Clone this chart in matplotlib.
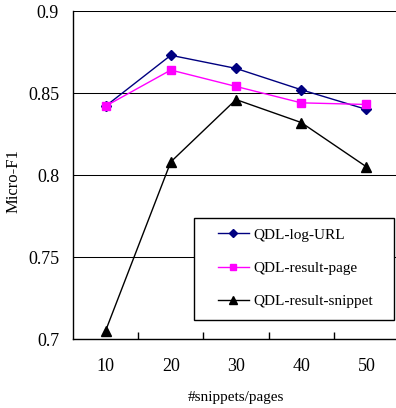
import matplotlib
matplotlib.use("Agg")
import matplotlib.pyplot as plt
from matplotlib.patches import Rectangle
from matplotlib.ticker import FixedLocator

plt.rcParams['font.family'] = ['Liberation Serif', 'DejaVu Serif']

# data
snippets = [10, 20, 30, 40, 50]
log_url = [0.842, 0.873, 0.865, 0.852, 0.840]
result_page = [0.842, 0.864, 0.854, 0.844, 0.843]
result_snippet = [0.705, 0.808, 0.846, 0.832, 0.805]
y_ticks = [0.7, 0.75, 0.8, 0.85, 0.9]
y_labels = ['0.7', '0.75', '0.8', '0.85', '0.9']

W, H = 396, 408
fig = plt.figure(figsize=(W / 100, H / 100), dpi=100)
# plot area runs a bit past the right edge, as in the reference
ax = fig.add_axes([73 / W, 1 - 339 / H, 326 / W, 328 / H])

ax.plot(snippets, log_url, color='#000080', marker='D', markersize=5,
        linewidth=1, label='QDL-log-URL', zorder=3)
ax.plot(snippets, result_page, color='#ff00ff', marker='s', markersize=6,
        linewidth=1, label='QDL-result-page', zorder=3)
ax.plot(snippets, result_snippet, color='black', marker='^', markersize=7,
        linewidth=1, label='QDL-result-snippet', zorder=3)

ax.set_xlim(5, 55)
ax.set_ylim(0.7, 0.9)
ax.set_yticks(y_ticks)
ax.set_yticklabels(y_labels)
ax.set_xticks(snippets)
ax.set_xticklabels([str(s) for s in snippets])
ax.xaxis.set_minor_locator(FixedLocator([15, 25, 35, 45]))
ax.tick_params(axis='x', which='major', length=0, pad=14, labelsize=13)
ax.tick_params(axis='x', which='minor', length=5, direction='in', width=1)
ax.tick_params(axis='y', length=0, pad=10, labelsize=13)
ax.grid(axis='y', color='black', linewidth=0.75)

for side in ['top', 'right']:
    ax.spines[side].set_visible(False)
for side in ['left', 'bottom']:
    ax.spines[side].set_linewidth(1)

ax.set_xlabel('#snippets/pages', fontsize=11, labelpad=11)
ax.set_ylabel('Micro-F1', fontsize=12)
ax.yaxis.set_label_coords(-0.158, 0.48)

# legend frame drawn separately so the entries can sit indented
ax.add_patch(Rectangle((194 / W, 1 - 320 / H), 200 / W, 102 / H,
                       transform=fig.transFigure, facecolor='white',
                       edgecolor='black', linewidth=1, zorder=4,
                       clip_on=False))
leg = ax.legend(loc='upper left', bbox_to_anchor=(218 / W, 1 - 228 / H),
                bbox_transform=fig.transFigure, fontsize=11, frameon=False,
                borderaxespad=0, borderpad=0, handlelength=2.0,
                labelspacing=1.28, handletextpad=0.3, markerscale=0.8)
leg.set_zorder(5)

fig.savefig('out.png', dpi=100)
